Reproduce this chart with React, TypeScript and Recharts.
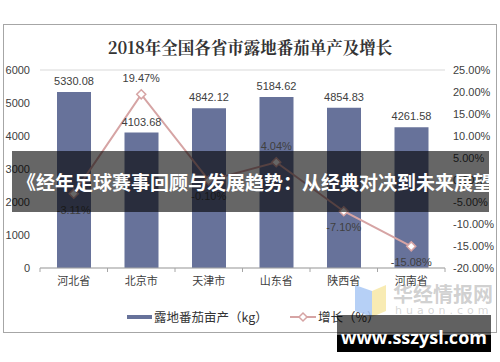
import React from "react";
import { ComposedChart, Bar, Line, XAxis, YAxis, CartesianGrid, LabelList } from "recharts";

const provinces = ["河北省", "北京市", "天津市", "山东省", "陕西省", "河南省"];
const yieldKg = [5330.08, 4103.68, 4842.12, 5184.62, 4854.83, 4261.58];
const growthPct = [-3.11, 19.47, -0.1, 4.04, -7.1, -15.08];
const leftTicks = [0, 1000, 2000, 3000, 4000, 5000, 6000];
const rightTicks = [-20, -15, -10, -5, 0, 5, 10, 15, 20, 25];
const seriesNames = ["露地番茄亩产（kg）", "增长（%）"];
const title = "2018年全国各省市露地番茄单产及增长";
const bannerText = "《经年足球赛事回顾与发展趋势：从经典对决到未来展望》";
const siteText = "www.sszysl.com";

const BAR_COLOR = "#67729a";
const LINE_COLOR = "#d6a4a4";
const TEXT = "#404040";
const PLOT_LEFT = 40;
const PLOT_RIGHT = 445;
const BAND = (PLOT_RIGHT - PLOT_LEFT) / provinces.length;

const data = provinces.map((p, i) => ({ name: p, yield: yieldKg[i], growth: growthPct[i] }));

function CategoryTick(props: any) {
  const { x, y, payload, index } = props;
  const left = x - BAND / 2;
  return (
    <g>
      <line x1={left} x2={left} y1={y} y2={y + 4} stroke="#a6a6a6" />
      {index === provinces.length - 1 && (
        <line x1={x + BAND / 2} x2={x + BAND / 2} y1={y} y2={y + 4} stroke="#a6a6a6" />
      )}
      <text x={x} y={y + 9} dy="0.71em" textAnchor="middle" fontSize={11} fill={TEXT} fontFamily="Noto Sans CJK SC">
        {payload.value}
      </text>
    </g>
  );
}

function Diamond(props: any) {
  const { cx, cy } = props;
  if (cx == null || cy == null) return null;
  const r = 4.5;
  return (
    <polygon
      points={`${cx},${cy - r} ${cx + r},${cy} ${cx},${cy + r} ${cx - r},${cy}`}
      fill="#fff"
      stroke={LINE_COLOR}
      strokeWidth={1.5}
    />
  );
}

function GrowthLabel(props: any) {
  const { x, y, value } = props;
  const above = value > 0;
  return (
    <text x={x} y={above ? y - 12 : y + 20} textAnchor="middle" fontSize={11} fill={TEXT} fontFamily="Liberation Sans, Arial">
      {`${value.toFixed(2)}%`}
    </text>
  );
}

export default function App() {
  return (
    <div style={{ position: "absolute", left: 0, top: 0, width: 500, height: 362, background: "#fff", overflow: "hidden" }}>
      <div
        style={{
          position: "absolute",
          left: 3,
          top: 24,
          width: 494,
          height: 309,
          border: "1px solid #a6a6a6",
          boxSizing: "border-box",
        }}
      />
      <div
        style={{
          position: "absolute",
          top: 36,
          left: 0,
          width: 500,
          textAlign: "center",
          fontSize: 16.5,
          fontWeight: "bold",
          color: "#333",
          fontFamily: "'Noto Serif CJK SC', 'Noto Sans CJK SC', serif",
          lineHeight: "22px",
        }}
      >
        {title}
      </div>
      <div style={{ position: "absolute", left: 0, top: 0 }}>
        <ComposedChart width={500} height={362} data={data} margin={{ top: 70, right: 0, bottom: 64, left: 0 }}>
          <CartesianGrid horizontal vertical={false} stroke="#d9d9d9" />
          <XAxis
            dataKey="name"
            xAxisId="x"
            height={30}
            axisLine={{ stroke: "#a6a6a6" }}
            tickLine={false}
            tickSize={0}
            tickMargin={0}
            tick={<CategoryTick />}
            interval={0}
          />
          <YAxis
            yAxisId="left"
            orientation="left"
            width={40}
            domain={[0, 6000]}
            ticks={leftTicks}
            axisLine={false}
            tickLine={false}
            tickMargin={4}
            tick={{ fontSize: 11, fill: TEXT, fontFamily: "Liberation Sans, Arial" }}
          />
          <YAxis
            yAxisId="right"
            orientation="right"
            width={55}
            domain={[-20, 25]}
            ticks={rightTicks}
            axisLine={false}
            tickLine={false}
            tickFormatter={(v) => `${v.toFixed(2)}%`}
            tick={{ fontSize: 11, fill: TEXT, fontFamily: "Liberation Sans, Arial" }}
          />
          <Bar dataKey="yield" xAxisId="x" yAxisId="left" fill={BAR_COLOR} barSize={34} isAnimationActive={false}>
            <LabelList
              dataKey="yield"
              position="top"
              offset={7}
              fontSize={11}
              fill={TEXT}
              fontFamily="Liberation Sans, Arial"
              formatter={(v: any) => Number(v).toFixed(2)}
            />
          </Bar>
          <Line
            dataKey="growth"
            xAxisId="x"
            yAxisId="right"
            type="linear"
            stroke={LINE_COLOR}
            strokeWidth={2}
            dot={<Diamond />}
            activeDot={false}
            isAnimationActive={false}
          >
            <LabelList dataKey="growth" content={<GrowthLabel />} />
          </Line>
        </ComposedChart>
      </div>
      {/* legend */}
      <div
        style={{
          position: "absolute",
          top: 309,
          left: 0,
          width: 500,
          height: 16,
          fontSize: 12.5,
          color: "#333",
          fontFamily: "'Noto Sans CJK SC', sans-serif",
          lineHeight: "16px",
        }}
      >
        <div style={{ position: "absolute", left: 127, top: 6, width: 25, height: 4, background: BAR_COLOR }} />
        <div style={{ position: "absolute", left: 154, top: 0, whiteSpace: "nowrap" }}>{seriesNames[0]}</div>
        <svg style={{ position: "absolute", left: 289, top: 2 }} width={28} height={12}>
          <line x1={1} x2={27} y1={6} y2={6} stroke={LINE_COLOR} strokeWidth={2} />
          <polygon points="14,2 18,6 14,10 10,6" fill="#fff" stroke={LINE_COLOR} strokeWidth={1.5} />
        </svg>
        <div style={{ position: "absolute", left: 318, top: 0, whiteSpace: "nowrap" }}>{seriesNames[1]}</div>
      </div>
      {/* huaon watermark */}
      <svg style={{ position: "absolute", left: 355, top: 283 }} width={32} height={34}>
        <polygon points="0,2 17,8 17,34 0,28" fill="#a9c8f5" opacity={0.85} />
        <polygon points="17,8 31,2 31,28 17,34" fill="#f7e7a6" opacity={0.85} />
      </svg>
      <div
        style={{
          position: "absolute",
          left: 393,
          top: 281,
          fontSize: 20,
          fontWeight: "bold",
          color: "rgba(150,150,150,0.45)",
          fontFamily: "'Noto Sans CJK SC', sans-serif",
          lineHeight: "26px",
          whiteSpace: "nowrap",
        }}
      >
        华经情报网
      </div>
      <div
        style={{
          position: "absolute",
          left: 395,
          top: 304,
          fontSize: 11,
          letterSpacing: 4,
          color: "rgba(150,150,150,0.4)",
          fontFamily: "'DejaVu Sans', sans-serif",
          whiteSpace: "nowrap",
        }}
      >
        huaon.com
      </div>
      {/* overlay banner */}
      <div
        style={{
          position: "absolute",
          left: 12,
          top: 151,
          width: 477,
          height: 61,
          background: "rgba(0,0,0,0.6)",
          overflow: "hidden",
        }}
      >
        <div
          style={{
            position: "absolute",
            left: 5,
            top: 19,
            whiteSpace: "nowrap",
            color: "#fff",
            fontSize: 19,
            fontWeight: "bold",
            lineHeight: "24px",
            fontFamily: "'Noto Sans CJK SC', sans-serif",
          }}
        >
          {bannerText}
        </div>
      </div>
      {/* site watermark */}
      <div style={{ position: "absolute", left: 337, top: 315, width: 154, height: 37, background: "rgba(0,0,0,0.62)" }} />
      <div style={{ position: "absolute", left: 337, top: 335, width: 154, height: 17, background: "#000" }} />
      <div
        style={{
          position: "absolute",
          left: 337,
          top: 324,
          width: 154,
          textAlign: "center",
          color: "#fff",
          fontSize: 18,
          fontWeight: "bold",
          lineHeight: "26px",
          fontFamily: "'Open Sans', 'DejaVu Sans', sans-serif",
        }}
      >
        {siteText}
      </div>
    </div>
  );
}
